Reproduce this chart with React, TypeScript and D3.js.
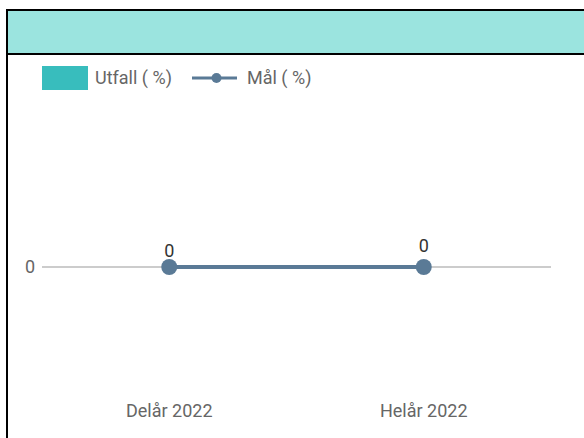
import React from 'react';
import * as d3 from 'd3';

const categories = ['Delår 2022', 'Helår 2022'];
const utfall = [0, 0];
const mal = [0, 0];
const yTicks = [0];
const legendNames = ['Utfall ( %)', 'Mål ( %)'];

const W = 584;
const H = 438;
const FONT = 'Roboto, "Noto Sans", sans-serif';

const teal = '#38bdbd';
const lineColor = '#5a7a96';

export default function App() {
  const x = d3.scaleBand().domain(categories).range([42, 551]);
  const y = d3.scaleLinear().domain([-1, 1]).range([390, 144]);
  const cx = (c: string) => (x(c) || 0) + x.bandwidth() / 2;

  const line = d3
    .line<number>()
    .x((d, i) => cx(categories[i]))
    .y(d => y(d));

  // the second value label sits a bit higher in the original
  const labelOffset = [10, 15];

  return (
    <div style={{ position: 'fixed', left: 0, top: 0, width: W, height: H, background: '#fff' }}>
      <svg width={W} height={H} style={{ display: 'block' }}>
        {/* frame + header band */}
        <rect x={8} y={11} width={W} height={42} fill="#9be4df" />
        <line x1={6} x2={W} y1={10} y2={10} stroke="#000" strokeWidth={2} />
        <line x1={6} x2={W} y1={54} y2={54} stroke="#000" strokeWidth={2} />
        <line x1={7} x2={7} y1={9} y2={H} stroke="#000" strokeWidth={2} />

        {/* legend */}
        <g fontFamily={FONT} fontSize={18} fill="#666">
          <rect x={42} y={66} width={46} height={24} fill={teal} />
          <text x={95} y={84}>{legendNames[0]}</text>
          <line x1={192} x2={237} y1={78} y2={78} stroke={lineColor} strokeWidth={3} />
          <circle cx={216.5} cy={78} r={5} fill={lineColor} />
          <text x={247} y={84}>{legendNames[1]}</text>
        </g>

        {/* y axis */}
        {yTicks.map(t => (
          <g key={t}>
            <line x1={42} x2={551} y1={y(t)} y2={y(t)} stroke="#ccc" strokeWidth={2} />
            <text x={35} y={y(t) + 6} textAnchor="end" fontFamily={FONT} fontSize={18} fill="#666">
              {t}
            </text>
          </g>
        ))}

        {/* bars (Utfall) */}
        {utfall.map((v, i) => (
          <rect
            key={i}
            x={x(categories[i])}
            width={x.bandwidth() * 0.6}
            y={Math.min(y(v), y(0))}
            height={Math.abs(y(v) - y(0))}
            fill={teal}
          />
        ))}

        {/* line (Mål) */}
        <path d={line(mal) || ''} fill="none" stroke={lineColor} strokeWidth={4} />
        {mal.map((v, i) => (
          <g key={i}>
            <circle cx={cx(categories[i])} cy={y(v)} r={8} fill={lineColor} />
            <text
              x={cx(categories[i])}
              y={y(v) - labelOffset[i]}
              textAnchor="middle"
              fontFamily={FONT}
              fontSize={18}
              fill="#333"
            >
              {v}
            </text>
          </g>
        ))}

        {/* x axis labels */}
        {categories.map(c => (
          <text key={c} x={cx(c)} y={417} textAnchor="middle" fontFamily={FONT} fontSize={18} fill="#666">
            {c}
          </text>
        ))}
      </svg>
    </div>
  );
}
